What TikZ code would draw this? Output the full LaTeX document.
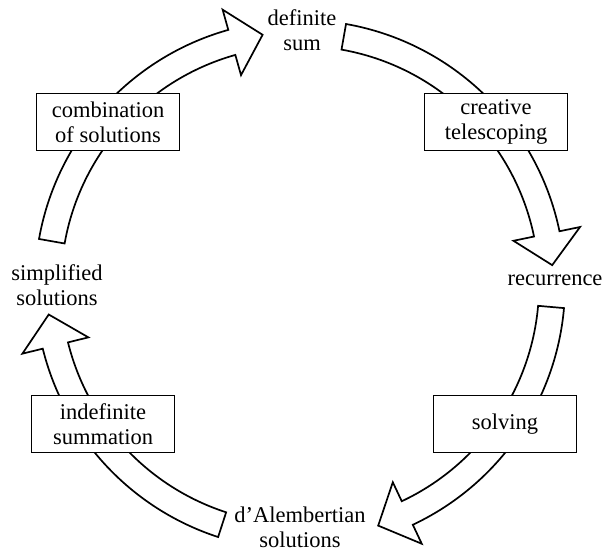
\documentclass[tikz,border=0pt]{standalone}
\usepackage{fontspec}
\setmainfont{Liberation Serif}
\newcommand{\ringarrow}[3]{%
  \pgfmathsetmacro\hb{#2+7.2}%
  \draw[band] (#1:265) arc[start angle=#1, end angle=\hb, radius=265]
    -- (\hb:286) -- (#2:253) coordinate (#3) -- (\hb:218) -- (\hb:239)
    arc[start angle=\hb, end angle=#1, radius=239] -- cycle;
}
\begin{document}
\begin{tikzpicture}[x=1pt,y=1pt,
  band/.style={draw=black, fill=white, line width=1.7pt, line join=miter},
  lbl/.style={align=center, font=\fontsize{22.5}{25}\selectfont, inner sep=0pt},
  stepbox/.style={draw=black, fill=white, line width=1.7pt, minimum width=143pt,
    minimum height=57pt, align=center, inner sep=0pt,
    font=\fontsize{22.5}{25}\selectfont}]
\useasboundingbox (0,0) rectangle (607,553);
\begin{scope}[shift={(300,268)}]
  \ringarrow{80}{4.5}{tipA}
  \ringarrow{355}{288}{tipB}
  \ringarrow{252}{186.7}{tipC}
  \ringarrow{170}{98.5}{tipD}
\end{scope}
\node[stepbox] (ct) at (496,431) {creative\\telescoping};
\node[stepbox] (sv) at (505,129) {solving};
\node[stepbox] (is) at (103,129) {indefinite\\summation};
\node[stepbox] (cs) at (108,431) {combination\\of solutions};
\node[lbl] (ds) at (302,523) {definite\\sum};
\node[lbl] (rc) at (555,273) {recurrence};
\node[lbl] (da) at (300,26) {d’Alembertian\\solutions};
\node[lbl] (ss) at (57,268) {simplified\\solutions};
\end{tikzpicture}
\end{document}
